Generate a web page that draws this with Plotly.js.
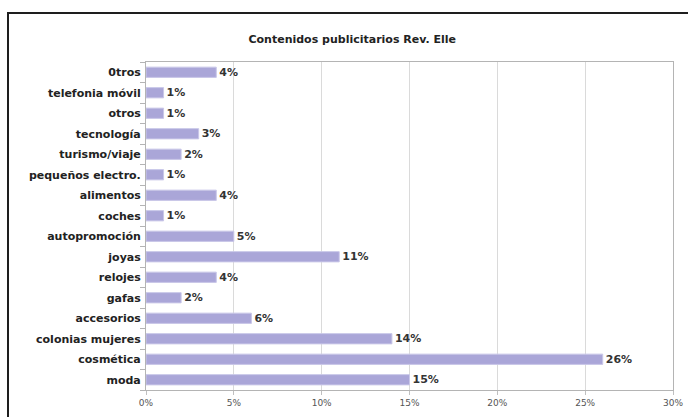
<!DOCTYPE html>
<html>
<head>
<meta charset="utf-8">
<script src="https://cdn.plot.ly/plotly-3.0.1.min.js"></script>
<style>
  html, body { margin: 0; padding: 0; background: #ffffff; overflow: hidden; }
  #wrap { position: relative; width: 688px; height: 417px; overflow: hidden; }
  #frame { position: absolute; left: 7px; top: 12px; width: 720px; height: 450px;
           border: 2px solid #1e1e1e; box-sizing: border-box; pointer-events: none; }
  #chart { position: absolute; left: 0; top: 0; width: 688px; height: 417px; }
</style>
</head>
<body>
<div id="wrap">
  <div id="chart"></div>
  <div id="frame"></div>
</div>
<script>
// Categories listed bottom to top (Plotly draws the first category at the bottom)
var categories = [
  "moda", "cosmética", "colonias mujeres", "accesorios", "gafas", "relojes",
  "joyas", "autopromoción", "coches", "alimentos", "pequeños electro.",
  "turismo/viaje", "tecnología", "otros", "telefonia móvil", "0tros"
];
var values = [15, 26, 14, 6, 2, 4, 11, 5, 1, 4, 1, 2, 3, 1, 1, 4];
var xTickValues = [0, 5, 10, 15, 20, 25, 30];
var xTickLabels = ["0%", "5%", "10%", "15%", "20%", "25%", "30%"];
var chartTitle = "Contenidos publicitarios Rev. Elle";

var trace = {
  type: "bar",
  orientation: "h",
  y: categories,
  x: values,
  marker: { color: "#aaa6d8", line: { color: "#c9c7e8", width: 1 } },
  text: values.map(function (v) { return v + "%"; }),
  textposition: "outside",
  constraintext: "none",
  cliponaxis: false,
  textfont: { family: "DejaVu Sans", size: 11, color: "#333333", weight: "bold" },
  hoverinfo: "none"
};

var layout = {
  width: 688,
  height: 417,
  margin: { l: 146, r: 15, t: 62, b: 27 },
  paper_bgcolor: "rgba(0,0,0,0)",
  plot_bgcolor: "#ffffff",
  showlegend: false,
  bargap: 0.5,
  title: {
    text: "<b>" + chartTitle + "</b>",
    font: { family: "DejaVu Sans", size: 11, color: "#222222" },
    x: 0.512, xanchor: "center",
    y: 0.906, yanchor: "middle"
  },
  xaxis: {
    range: [0, 30],
    tickvals: xTickValues,
    ticktext: xTickLabels,
    showgrid: true,
    gridcolor: "#dadada",
    gridwidth: 1,
    zeroline: false,
    showline: true,
    linecolor: "#b4b4b4",
    linewidth: 1,
    mirror: true,
    ticks: "outside",
    ticklen: 4,
    tickcolor: "#c0c0c0",
    tickfont: { family: "DejaVu Sans", size: 9, color: "#555555" },
    fixedrange: true
  },
  yaxis: {
    type: "category",
    categoryorder: "array",
    categoryarray: categories,
    showgrid: false,
    zeroline: false,
    showline: true,
    linecolor: "#b4b4b4",
    linewidth: 1,
    mirror: true,
    ticks: "outside",
    tickson: "boundaries",
    ticklen: 5,
    tickcolor: "#b4b4b4",
    ticklabelstandoff: 2,
    tickfont: { family: "DejaVu Sans", size: 11, color: "#222222", weight: "bold" },
    fixedrange: true
  }
};

Plotly.newPlot("chart", [trace], layout, { displayModeBar: false, staticPlot: true });
</script>
</body>
</html>
